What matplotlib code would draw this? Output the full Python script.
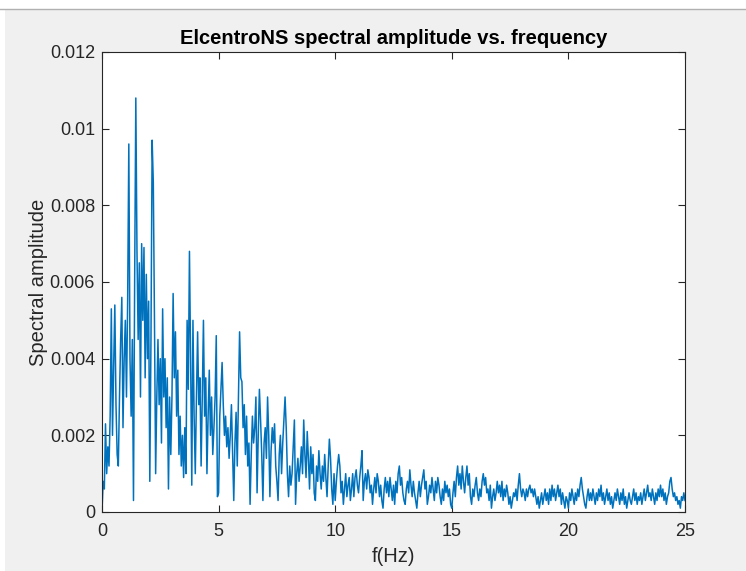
import matplotlib
matplotlib.use("Agg")
import matplotlib.pyplot as plt
import numpy as np
from matplotlib.patches import Rectangle
from matplotlib.lines import Line2D

plt.rcParams['font.family'] = ['Liberation Sans', 'DejaVu Sans']

# spectral amplitude, units of 1e-4, one row per Hz, step 0.05 Hz
df = 0.05
amp_rows = [
    [0, 8, 6, 23, 10, 17, 12, 25, 53, 20, 38, 54, 28, 15, 12, 30, 45, 56, 22, 40],
    [50, 30, 55, 96, 40, 25, 45, 3, 60, 108, 68, 45, 65, 30, 70, 50, 69, 35, 62, 40],
    [55, 8, 45, 97, 86, 50, 10, 30, 45, 28, 40, 18, 53, 30, 40, 22, 35, 6, 30, 15],
    [30, 57, 35, 47, 25, 37, 15, 25, 12, 20, 9, 22, 10, 50, 32, 68, 40, 7, 50, 25],
    [10, 30, 47, 28, 35, 12, 30, 50, 25, 35, 10, 25, 37, 20, 30, 15, 22, 30, 46, 4],
    [5, 25, 32, 39, 28, 20, 25, 17, 22, 14, 20, 28, 15, 3, 18, 26, 12, 30, 47, 35],
    [34, 22, 28, 15, 25, 12, 18, 2, 15, 25, 18, 22, 30, 5, 20, 32, 24, 15, 3, 18],
    [22, 14, 30, 20, 4, 16, 22, 18, 23, 12, 8, 3, 15, 20, 10, 18, 24, 30, 22, 10],
    [4, 12, 7, 10, 17, 24, 2, 10, 14, 8, 12, 17, 10, 24, 15, 9, 21, 14, 6, 17],
    [10, 15, 5, 3, 12, 8, 16, 10, 6, 12, 8, 15, 9, 4, 12, 19, 14, 6, 2, 10],
    [3, 8, 12, 15, 12, 5, 8, 2, 6, 10, 4, 7, 9, 3, 6, 10, 4, 9, 11, 7],
    [5, 9, 12, 16, 3, 8, 10, 6, 11, 9, 5, 7, 2, 6, 9, 5, 10, 8, 4, 7],
    [3, 1, 6, 9, 5, 8, 4, 9, 6, 3, 7, 2, 8, 5, 10, 12, 7, 9, 5, 3],
    [2, 6, 8, 5, 11, 7, 4, 8, 5, 3, 1, 5, 8, 4, 7, 9, 11, 6, 8, 2],
    [4, 7, 5, 9, 6, 3, 8, 5, 9, 7, 4, 2, 6, 3, 8, 5, 7, 4, 6, 2],
    [1, 5, 8, 4, 9, 12, 7, 10, 6, 12, 8, 5, 9, 12, 7, 10, 4, 2, 6, 4],
    [7, 9, 5, 3, 6, 4, 8, 10, 7, 9, 5, 6, 3, 7, 1, 4, 6, 3, 5, 8],
    [5, 7, 4, 8, 3, 6, 4, 7, 5, 2, 4, 1, 3, 5, 4, 6, 3, 7, 10, 6],
    [4, 6, 5, 3, 6, 4, 6, 7, 5, 6, 4, 6, 4, 2, 4, 1, 3, 5, 2, 4],
    [6, 3, 5, 2, 6, 3, 7, 4, 6, 3, 5, 7, 4, 6, 2, 5, 3, 1, 4, 3],
    [1, 5, 3, 6, 4, 2, 5, 3, 6, 4, 7, 9, 6, 4, 2, 1, 4, 6, 3, 5],
    [3, 6, 4, 2, 5, 3, 6, 4, 7, 3, 5, 2, 4, 6, 3, 5, 2, 4, 1, 3],
    [5, 3, 6, 4, 2, 5, 3, 6, 2, 4, 1, 3, 5, 3, 2, 4, 6, 3, 5, 2],
    [4, 3, 5, 2, 4, 6, 3, 5, 7, 4, 5, 3, 6, 4, 2, 5, 3, 6, 4, 7],
    [4, 6, 3, 5, 2, 4, 5, 8, 9, 6, 4, 5, 3, 4, 2, 3, 1, 4, 3, 5],
    [3],
]

amp = np.concatenate([np.array(r, dtype=float) for r in amp_rows]) * 1e-4
freq = np.arange(len(amp)) * df

W, H = 746, 571
fig = plt.figure(figsize=(W / 100, H / 100), dpi=100)
fig.patch.set_facecolor('white')
# grey figure window area behind the axes
fig.add_artist(Rectangle((5 / W, 0), 1, (H - 9) / H, transform=fig.transFigure,
                         facecolor='#f0f0f0', edgecolor='none', zorder=-10))
fig.add_artist(Line2D([0, 1], [1 - 8.5 / H, 1 - 8.5 / H], transform=fig.transFigure,
                      color='#b0b0b0', lw=1, zorder=-9))

ax = fig.add_axes([102 / W, 1 - 512 / H, (685 - 102) / W, (512 - 52) / H])
ax.set_facecolor('white')
ax.plot(freq, amp, color='#0072BD', lw=1.1)

ax.set_xlim(0, 25)
ax.set_ylim(0, 0.012)
ax.set_xticks([0, 5, 10, 15, 20, 25])
ax.set_yticks([0, 0.002, 0.004, 0.006, 0.008, 0.01, 0.012])
ax.set_yticklabels(['0', '0.002', '0.004', '0.006', '0.008', '0.01', '0.012'])
ax.tick_params(direction='in', top=True, right=True, length=5, width=0.8,
               colors='#262626', labelsize=13)
ax.tick_params(axis='x', pad=8)
ax.tick_params(axis='y', pad=5)
for s in ax.spines.values():
    s.set_color('#262626')
    s.set_linewidth(0.8)

ax.set_title('ElcentroNS spectral amplitude vs. frequency', fontsize=14.5,
             fontweight='bold', color='black', pad=6)
ax.set_xlabel('f(Hz)', fontsize=14.5, color='#262626', labelpad=5)
ax.set_ylabel('Spectral amplitude', fontsize=14.5, color='#262626', labelpad=1)

fig.savefig('out.png', dpi=100, facecolor=fig.get_facecolor())
